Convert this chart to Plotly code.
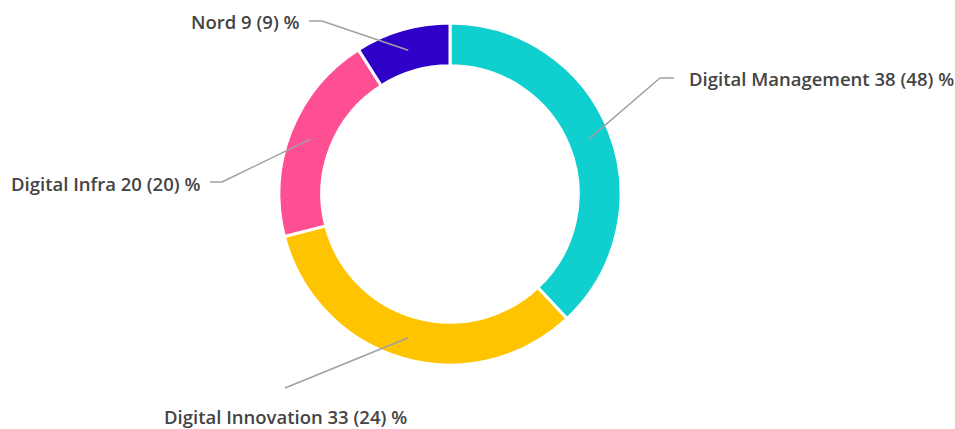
import math
import plotly.graph_objects as go

labels = ["Digital Management", "Digital Innovation", "Digital Infra", "Nord"]
values = [38, 33, 20, 9]
secondary = [48, 24, 20, 9]
colors = ["#0FCFCF", "#FFC400", "#FF4F93", "#2E00C8"]

W, H = 955, 429
CX, CY, R = 450, 194, 171
HOLE = 0.75

# label layout (pixels): elbow point, end of horizontal stub, text anchor
label_layout = [
    dict(elbow=(660, 78), stub=(674, 78), text=(687, 78), xanchor="left", yanchor="middle"),
    dict(elbow=(285, 388), stub=None, text=(285, 416), xanchor="center", yanchor="middle"),
    dict(elbow=(222, 182), stub=(210, 182), text=(202, 183), xanchor="right", yanchor="middle"),
    dict(elbow=(322, 21), stub=(309, 21), text=(302, 21), xanchor="right", yanchor="middle"),
]

def px(x, y):
    return x / W, 1 - y / H

fig = go.Figure()
fig.add_trace(go.Pie(
    labels=labels, values=values, hole=HOLE, sort=False, direction="clockwise",
    rotation=0, marker=dict(colors=colors, line=dict(color="white", width=3)),
    textinfo="none", hoverinfo="label+value", showlegend=False,
    domain=dict(x=[(CX - R) / W, (CX + R) / W], y=[1 - (CY + R) / H, 1 - (CY - R) / H]),
))

total = sum(values)
r_mid = R * (1 + HOLE) / 2
cum = 0
shapes, annotations = [], []
for lab, v, s, lay in zip(labels, values, secondary, label_layout):
    mid = (cum + v / 2) / total * 2 * math.pi
    cum += v
    sx = CX + r_mid * math.sin(mid)
    sy = CY - r_mid * math.cos(mid)
    pts = [(sx, sy), lay["elbow"]]
    if lay["stub"]:
        pts.append(lay["stub"])
    for (x0, y0), (x1, y1) in zip(pts[:-1], pts[1:]):
        a0, b0 = px(x0, y0)
        a1, b1 = px(x1, y1)
        shapes.append(dict(type="line", xref="paper", yref="paper", x0=a0, y0=b0, x1=a1, y1=b1,
                           line=dict(color="#A0A0A0", width=1.5)))
    tx, ty = px(*lay["text"])
    annotations.append(dict(
        text=f"{lab} {v} ({s}) %", x=tx, y=ty, xref="paper", yref="paper",
        xanchor=lay["xanchor"], yanchor=lay["yanchor"], showarrow=False,
        font=dict(family="Open Sans", size=18.5, color="#444444", weight=600),
    ))

fig.update_layout(
    width=W, height=H, margin=dict(l=0, r=0, t=0, b=0),
    paper_bgcolor="white", plot_bgcolor="white",
    shapes=shapes, annotations=annotations,
)
fig.write_html("out.html")
